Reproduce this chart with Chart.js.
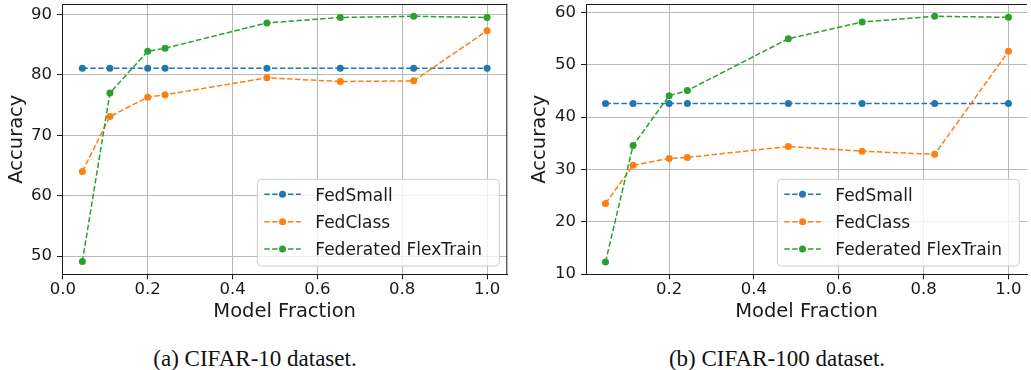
<!DOCTYPE html>
<html>
<head>
<meta charset="utf-8">
<script src="https://cdn.jsdelivr.net/npm/chart.js@4.4.0/dist/chart.umd.min.js"></script>
<style>
  body { margin: 0; background: #fff; width: 1031px; height: 370px; position: relative; overflow: hidden; }
  canvas { position: absolute; top: 0; }
  #chartA { left: 0; }
  #chartB { left: 515px; }
  .caption {
    position: absolute; top: 346.5px; line-height: 1;
    font-family: "Liberation Serif", "Times New Roman", serif; font-size: 23px;
    color: #111; white-space: nowrap; transform: translateX(-50%);
  }
</style>
</head>
<body>
<canvas id="chartA" width="515" height="330"></canvas>
<canvas id="chartB" width="516" height="330"></canvas>
<div class="caption" style="left:255px">(a) CIFAR-10 dataset.</div>
<div class="caption" style="left:777px">(b) CIFAR-100 dataset.</div>
<script>
// values
const seriesNames = ['FedSmall', 'FedClass', 'Federated FlexTrain'];
const seriesColors = ['#1f77b4', '#ff7f0e', '#2ca02c'];

// (a) CIFAR-10
const fractionA = [0.046, 0.111, 0.2, 0.241, 0.481, 0.654, 0.827, 1.0];
const fedSmallA = [81.1, 81.1, 81.1, 81.1, 81.1, 81.1, 81.1, 81.1];
const fedClassA = [64.0, 73.1, 76.3, 76.7, 79.5, 78.9, 79.0, 87.3];
const flexTrainA = [49.1, 77.0, 83.9, 84.4, 88.6, 89.5, 89.7, 89.5];
const xTicksA = [0, 0.2, 0.4, 0.6, 0.8, 1.0];
const yTicksA = [50, 60, 70, 80, 90];

// (b) CIFAR-100
const fractionB = [0.05, 0.115, 0.2, 0.243, 0.481, 0.655, 0.826, 1.0];
const fedSmallB = [42.6, 42.6, 42.6, 42.6, 42.6, 42.6, 42.6, 42.6];
const fedClassB = [23.5, 30.8, 32.1, 32.3, 34.4, 33.5, 32.9, 52.6];
const flexTrainB = [12.3, 34.6, 44.1, 45.1, 55.0, 58.2, 59.3, 59.1];
const xTicksB = [0.2, 0.4, 0.6, 0.8, 1.0];
const yTicksB = [10, 20, 30, 40, 50, 60];

const ink = '#1a1a1a';
const gridColor = '#b8b8b8';

// matplotlib style box: top / right spines
const spines = {
  id: 'spines',
  afterDatasetsDraw(chart, args, opts) {
    const { ctx, chartArea: ca } = chart;
    ctx.save();
    ctx.strokeStyle = ink;
    ctx.lineWidth = 1;
    ctx.beginPath();
    ctx.moveTo(ca.left, ca.top + 0.5);
    ctx.lineTo(ca.right, ca.top + 0.5);
    if (opts.right) {
      ctx.moveTo(ca.right - 0.5, ca.top);
      ctx.lineTo(ca.right - 0.5, ca.bottom);
    }
    ctx.stroke();
    ctx.restore();
  }
};

// legend inside the plot, lower right
const boxLegend = {
  id: 'boxLegend',
  afterDraw(chart, args, opts) {
    const { ctx, chartArea: ca } = chart;
    const w = 242, h = 86.7;
    const x0 = ca.right - opts.right - w;
    const y0 = ca.bottom - 8.3 - h;
    ctx.save();
    ctx.beginPath();
    ctx.roundRect(x0, y0, w, h, 4);
    ctx.fillStyle = 'rgba(255,255,255,0.8)';
    ctx.fill();
    ctx.strokeStyle = '#cccccc';
    ctx.lineWidth = 1;
    ctx.stroke();
    ctx.font = '17px "DejaVu Sans"';
    ctx.textBaseline = 'alphabetic';
    chart.data.datasets.forEach((ds, i) => {
      const y = y0 + 15 + i * 27.35;
      ctx.strokeStyle = ds.borderColor;
      ctx.lineWidth = 1.5;
      ctx.setLineDash([5.5, 2.4]);
      ctx.beginPath();
      ctx.moveTo(x0 + 7, y);
      ctx.lineTo(x0 + 43.5, y);
      ctx.stroke();
      ctx.setLineDash([]);
      ctx.fillStyle = ds.borderColor;
      ctx.beginPath();
      ctx.arc(x0 + 25.2, y, 3.5, 0, Math.PI * 2);
      ctx.fill();
      ctx.fillStyle = ink;
      ctx.fillText(ds.label, x0 + 58, y + 6.2);
    });
    ctx.restore();
  }
};

function makeChart(id, fractions, series, xTicks, yTicks, o) {
  const datasets = series.map((vals, i) => ({
    label: seriesNames[i],
    data: fractions.map((f, j) => ({ x: f, y: vals[j] })),
    borderColor: seriesColors[i],
    backgroundColor: seriesColors[i],
    borderWidth: 1.5,
    borderDash: [5.5, 2.4],
    pointRadius: 3.5,
    pointBorderWidth: 0,
    pointBackgroundColor: seriesColors[i],
    tension: 0,
    order: 2 - i
  }));
  const tickFont = { family: 'DejaVu Sans', size: 16.5 };
  const titleFont = { family: 'DejaVu Sans', size: 19.5 };
  return new Chart(document.getElementById(id), {
    type: 'line',
    data: { datasets },
    plugins: [spines, boxLegend],
    options: {
      responsive: false,
      animation: false,
      layout: { padding: o.padding },
      plugins: {
        legend: { display: false },
        tooltip: { enabled: false },
        spines: { right: o.rightSpine },
        boxLegend: { right: o.legendRight }
      },
      scales: {
        x: {
          type: 'linear',
          min: o.xMin,
          max: o.xMax,
          afterBuildTicks: s => { s.ticks = xTicks.map(v => ({ value: v })); },
          afterFit: s => { s.height = 55.7; s.paddingLeft = 0; s.paddingRight = 0; },
          grid: { color: gridColor, lineWidth: 1, tickLength: 5, tickColor: ink },
          border: { color: ink, width: 1 },
          ticks: { color: ink, font: tickFont, padding: 1, maxRotation: 0, autoSkip: false, callback: v => v.toFixed(1) },
          title: { display: true, text: 'Model Fraction', color: ink, font: titleFont, padding: { top: 0, bottom: 6 } }
        },
        y: {
          min: o.yMin,
          max: o.yMax,
          afterBuildTicks: s => { s.ticks = yTicks.map(v => ({ value: v })); },
          afterFit: s => { s.width = o.yWidth; s.paddingTop = 0; s.paddingBottom = 0; },
          grid: { color: gridColor, lineWidth: 1, tickLength: 5, tickColor: ink },
          border: { color: ink, width: 1 },
          ticks: { color: ink, font: tickFont, padding: 5, autoSkip: false },
          title: { display: true, text: 'Accuracy', color: ink, font: titleFont, padding: { top: 5, bottom: 0 } }
        }
      }
    }
  });
}

makeChart('chartA', fractionA, [fedSmallA, fedClassA, flexTrainA], xTicksA, yTicksA, {
  padding: { left: 0, top: 2, right: 7.7, bottom: 0 },
  xMin: -0.002, xMax: 1.0477, yMin: 46.97, yMax: 91.73,
  yWidth: 62, rightSpine: true, legendRight: 8
});

makeChart('chartB', fractionB, [fedSmallB, fedClassB, flexTrainB], xTicksB, yTicksB, {
  padding: { left: 8, top: 2, right: 0, bottom: 0 },
  xMin: 0.004, xMax: 1.0437, yMin: 9.95, yMax: 61.65,
  yWidth: 63, rightSpine: false, legendRight: 7.7
});
</script>
</body>
</html>
